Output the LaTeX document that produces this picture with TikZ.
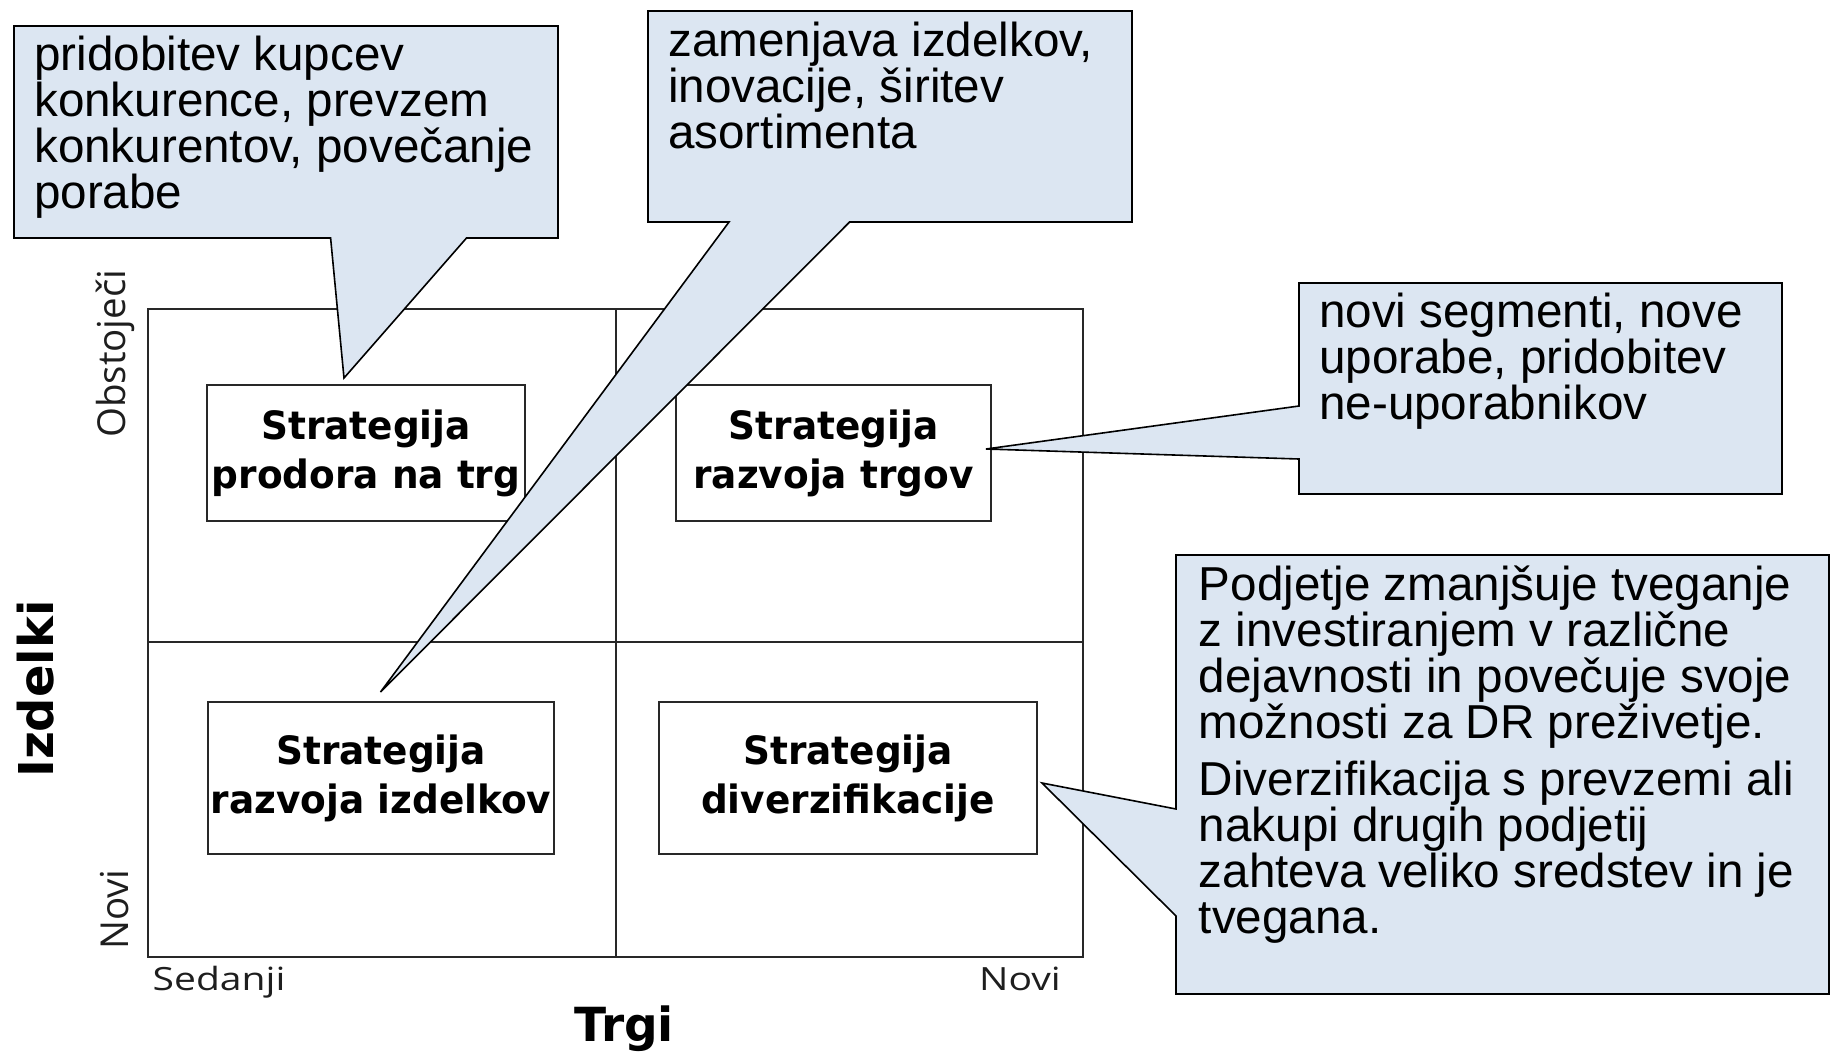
\documentclass[tikz,border=0pt]{standalone}
\usepackage{fontspec}
\setmainfont{Liberation Sans}
\newfontfamily\dejavu{DejaVu Sans}
\newfontfamily\boxfont[FakeStretch=0.96]{DejaVu Sans}
\newfontfamily\axisfont{Open Sans}
\newfontfamily\axiswide[FakeStretch=1.22]{Open Sans}
\definecolor{calloutfill}{RGB}{220,230,242}
\definecolor{gridline}{RGB}{40,40,40}
\definecolor{labelgray}{RGB}{30,30,30}
\tikzset{
  callout/.style={fill=calloutfill, draw=black, line width=1.6pt, line join=miter},
  calltext/.style={anchor=north west, inner sep=0pt, align=left,
    font=\fontsize{47.6}{46}\selectfont},
  stratbox/.style={draw=gridline, line width=1.8pt, fill=white, inner sep=0pt,
    align=center, font=\boxfont\bfseries\fontsize{39}{49}\selectfont},
  gridpath/.style={draw=gridline, line width=1.8pt},
  axissmall/.style={inner sep=0pt, text=labelgray,
    font=\axiswide\fontsize{32}{36}\selectfont},
  axisside/.style={inner sep=0pt, text=labelgray, rotate=90, anchor=base west,
    font=\axisfont\fontsize{38.5}{42}\selectfont},
  axistitle/.style={inner sep=0pt, font=\dejavu\bfseries}
}
\begin{document}
\begin{tikzpicture}[x=1pt, y=-1pt]
\useasboundingbox (0,0) rectangle (1830,1053);

% product / market matrix
\draw[gridpath] (148,309) rectangle (1083,957);
\draw[gridpath] (616,309) -- (616,957);
\draw[gridpath] (148,642) -- (1083,642);

% strategy boxes
\node[stratbox, minimum width=318pt, minimum height=136pt] (pen) at (366,453)
  {Strategija\\prodora na trg};
\node[stratbox, minimum width=315pt, minimum height=136pt] (mkt) at (833.5,453)
  {Strategija\\razvoja trgov};
\node[stratbox, minimum width=346pt, minimum height=152pt] (prod) at (381,778)
  {Strategija\\razvoja izdelkov};
\node[stratbox, minimum width=378pt, minimum height=152pt] (div) at (848,778)
  {Strategija\\diverzifikacije};

% axis labels
\node[axisside] (exist) at (125,438) {Obstoječi};
\node[axisside] (newprod) at (128,950) {Novi};
\node[axistitle, rotate=90, anchor=base west, font=\dejavu\bfseries\fontsize{48}{52}\selectfont]
  (izd) at (53,778) {Izdelki};
\node[axissmall, anchor=base west] (cur) at (152.5,990) {Sedanji};
\node[axissmall, anchor=base east] (newmkt) at (1061,990) {Novi};
\node[axistitle, anchor=base west, font=\dejavu\bfseries\fontsize{47}{50}\selectfont]
  (trgi) at (574,1041.8) {Trgi};

% callout: market penetration
\coordinate (tipA) at (344,378);
\draw[callout] (14,26) -- (558,26) -- (558,238) -- (466.5,238) -- (tipA)
  -- (330.6,238) -- (14,238) -- cycle;
\node[calltext] (noteA) at (34,36)
  {pridobitev kupcev\\konkurence, prevzem\\konkurentov, povečanje\\porabe};

% callout: product development
\coordinate (tipB) at (380.5,692);
\draw[callout] (648,11) -- (1132,11) -- (1132,222) -- (849.6,222) -- (tipB)
  -- (729,222) -- (648,222) -- cycle;
\node[calltext] (noteB) at (668,22)
  {zamenjava izdelkov,\\inovacije, širitev\\asortimenta};

% callout: market development
\coordinate (tipC) at (986,449);
\draw[callout] (1299,283) -- (1782,283) -- (1782,494) -- (1299,494) -- (1299,459)
  -- (tipC) -- (1299,406) -- cycle;
\node[calltext] (noteC) at (1319,292.6)
  {novi segmenti, nove\\uporabe, pridobitev\\ne-uporabnikov};

% callout: diversification
\coordinate (tipD) at (1042,783);
\draw[callout] (1176,555) -- (1829,555) -- (1829,994) -- (1176,994) -- (1176,916)
  -- (tipD) -- (1176,809) -- cycle;
\node[calltext] (noteD) at (1198.6,566)
  {Podjetje zmanjšuje tveganje\\z investiranjem v različne\\dejavnosti in povečuje svoje\\možnosti za DR preživetje.\\[11pt]Diverzifikacija s prevzemi ali\\nakupi drugih podjetij\\zahteva veliko sredstev in je\\tvegana.};
\end{tikzpicture}
\end{document}
